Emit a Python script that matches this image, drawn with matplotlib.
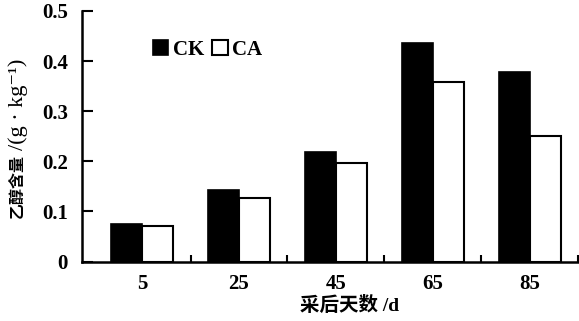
import matplotlib
matplotlib.use("Agg")
import matplotlib.pyplot as plt
import numpy as np

days = ["5", "25", "45", "65", "85"]
ck = [0.074, 0.142, 0.218, 0.436, 0.378]
ca = [0.070, 0.126, 0.196, 0.358, 0.250]
yticks = [0, 0.1, 0.2, 0.3, 0.4, 0.5]
ytick_labels = ["0", "0.1", "0.2", "0.3", "0.4", "0.5"]

serif = ["Liberation Serif", "Noto Sans CJK SC", "DejaVu Sans"]
W, H = 579, 321

fig = plt.figure(figsize=(W / 100, H / 100), dpi=100)
ax = fig.add_axes([82 / W, 1 - 261.5 / H, (578 - 82) / W, (261.5 - 11) / H])

x = np.arange(len(days))
w = 0.32
ax.bar(x - w / 2, ck, w, color="black", edgecolor="black", linewidth=1.2, label="CK")
ax.bar(x + w / 2, ca, w, color="white", edgecolor="black", linewidth=1.5, label="CA")

ax.set_xlim(-0.62, 4.5)
ax.set_ylim(0, 0.5)
ax.set_yticks(yticks)
ax.set_yticklabels(ytick_labels, fontfamily=serif, fontweight="bold", fontsize=15)
ax.set_xticks(x)
ax.set_xticklabels(days, fontfamily=serif, fontweight="bold", fontsize=15)
ax.tick_params(axis="x", length=0, pad=9)
ax.set_xticks(np.arange(0.5, 5, 1), minor=True)
ax.tick_params(axis="x", which="minor", direction="in", length=5, width=1.5)
ax.tick_params(axis="y", direction="in", length=8, width=1.5, pad=10)

for s in ["top", "right"]:
    ax.spines[s].set_visible(False)
for s in ["left", "bottom"]:
    ax.spines[s].set_linewidth(1.8)

# y label drawn in two parts (Chinese and unit)
fig.text(18 / W, 1 - 186 / H, "乙醇含量", rotation=90, ha="center", va="center",
         fontfamily=serif, fontsize=11.5, fontweight="bold")
fig.text(18 / W, 1 - 104 / H, "/(g · kg⁻¹)", rotation=90, ha="center", va="center",
         fontfamily=serif, fontsize=16)

ax.set_xlabel("采后天数 /d", fontfamily=serif, fontsize=14, fontweight="bold")
ax.xaxis.set_label_coords(0.54, -0.138)

leg = ax.legend(loc="upper left", bbox_to_anchor=(0.105, 0.96), ncol=2, frameon=False,
                prop={"family": serif, "weight": "bold", "size": 15},
                handlelength=0.75, handleheight=0.75, handletextpad=0.2, columnspacing=0.4)

fig.savefig("out.png", dpi=100)
